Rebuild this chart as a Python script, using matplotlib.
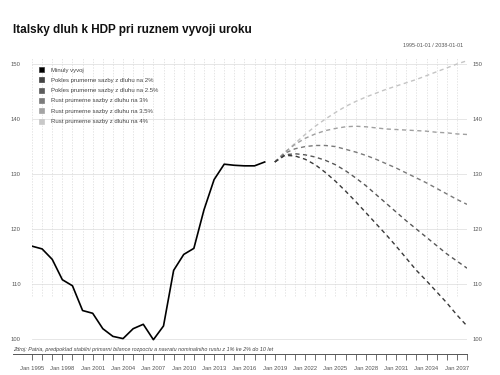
import matplotlib
matplotlib.use("Agg")
import matplotlib.pyplot as plt
from matplotlib.lines import Line2D
from matplotlib.patches import Patch

plt.rcParams['font.family'] = ['Liberation Sans', 'DejaVu Sans']

# ---- data ----
hist_years = list(range(1995, 2019))
hist_values = [116.9, 116.4, 114.5, 110.8, 109.7, 105.2, 104.7, 101.9, 100.5, 100.1,
               101.9, 102.7, 99.9, 102.4, 112.5, 115.4, 116.5, 123.5, 129.0, 131.8,
               131.6, 131.5, 131.5, 132.2]

proj_years = list(range(2019, 2039))
proj_2_0 = [132.2, 133.4, 133.3, 132.7, 131.7, 130.3, 128.7, 126.9, 125.0, 123.0,
            121.0, 119.0, 116.9, 114.7, 112.5, 110.6, 108.6, 106.6, 104.4, 102.4]
proj_2_5 = [132.2, 133.5, 133.7, 133.5, 133.1, 132.5, 131.7, 130.6, 129.3, 127.9,
            126.3, 124.7, 123.1, 121.5, 120.0, 118.5, 117.0, 115.5, 114.2, 112.9]
proj_3_0 = [132.2, 133.8, 134.6, 135.0, 135.2, 135.2, 135.0, 134.5, 134.0, 133.4,
            132.7, 131.9, 131.1, 130.2, 129.3, 128.4, 127.4, 126.4, 125.4, 124.5]
proj_3_5 = [132.2, 134.0, 135.4, 136.5, 137.3, 137.9, 138.3, 138.6, 138.7, 138.6,
            138.4, 138.2, 138.1, 138.0, 137.9, 137.8, 137.6, 137.5, 137.3, 137.2]
proj_4_0 = [132.2, 133.9, 135.6, 137.2, 138.7, 140.0, 141.2, 142.3, 143.2, 144.0,
            144.7, 145.4, 146.0, 146.6, 147.2, 147.9, 148.6, 149.3, 150.0, 150.6]

series_labels = ["Minuly vyvoj",
                 "Pokles prumerne sazby z dluhu na 2%",
                 "Pokles prumerne sazby z dluhu na 2.5%",
                 "Rust prumerne sazby z dluhu na 3%",
                 "Rust prumerne sazby z dluhu na 3.5%",
                 "Rust prumerne sazby z dluhu na 4%"]
series_colors = ["#000000", "#3a3a3a", "#585858", "#7a7a7a", "#a0a0a0", "#c4c4c4"]
legend_colors = ["#000000", "#444444", "#5c5c5c", "#7c7c7c", "#a4a4a4", "#c8c8c8"]

y_ticks = [100, 110, 120, 130, 140, 150]
x_label_years = list(range(1995, 2038, 3))

title = "Italsky dluh k HDP pri ruznem vyvoji uroku"
date_range = "1995-01-01 / 2038-01-01"
source = ("Zdroj: Patria, predpoklad stabilni primarni bilance rozpoctu a navratu "
          "nominalniho rustu z 1% ke 2% do 10 let")

# ---- figure ----
W, H = 500, 375
fig = plt.figure(figsize=(5, 3.75), dpi=100)
ax_left, ax_right, ax_top, ax_bot = 32, 467, 58, 354
ax = fig.add_axes([ax_left / W, 1 - ax_bot / H, (ax_right - ax_left) / W, (ax_bot - ax_top) / H])
ax.set_xlim(1995, 2038)
ax.set_ylim(97.3, 151.1)

# grid
for yv in y_ticks:
    ax.axhline(yv, color="#e2e2e2", lw=0.6, zorder=0)
for yr in range(1995, 2039):
    ax.plot([yr, yr], [107.8, 151.1], color="#dadada", lw=0.5, ls=(0, (2, 2)), zorder=0)

# lines
ax.plot(hist_years, hist_values, color=series_colors[0], lw=1.2, zorder=5)
projs = [proj_2_0, proj_2_5, proj_3_0, proj_3_5, proj_4_0]
for vals, col in reversed(list(zip(projs, series_colors[1:]))):
    ax.plot(proj_years, vals, color=col, lw=1.0, ls=(0, (3, 2.5)), zorder=4)

# axes styling
for s in ["top", "left", "right"]:
    ax.spines[s].set_visible(False)
ax.spines["bottom"].set_color("#555555")
ax.spines["bottom"].set_linewidth(0.7)

ax.set_xticks(list(range(1995, 2039)), minor=True)
ax.set_xticks(x_label_years)
ax.set_xticklabels([f"Jan {y}" for y in x_label_years])
ax.tick_params(axis="x", which="both", direction="out", length=4, width=0.6,
               color="#555555", labelsize=4.2, labelcolor="#555555", pad=5)

ax.set_yticks(y_ticks)
ax.tick_params(axis="y", which="both", length=0, labelsize=4.2, labelcolor="#555555",
               left=True, right=False, labelleft=True, labelright=False, pad=8)

ax2 = ax.twinx()
ax2.set_ylim(ax.get_ylim())
ax2.set_yticks(y_ticks)
for s in ["top", "left", "right", "bottom"]:
    ax2.spines[s].set_visible(False)
ax2.tick_params(axis="y", length=0, labelsize=4.2, labelcolor="#555555", pad=4)

# legend
handles = [Patch(facecolor=c, edgecolor="#333333" if i == 0 else c, linewidth=0.5)
           for i, c in enumerate(legend_colors)]
leg = ax.legend(handles, series_labels, loc="upper left",
                bbox_to_anchor=((39 - ax_left) / (ax_right - ax_left), 1 - (67 - ax_top) / (ax_bot - ax_top)),
                frameon=False, fontsize=4.3, handlelength=0.9, handleheight=0.9,
                handletextpad=1.1, labelspacing=0.8, borderaxespad=0, borderpad=0)
for t in leg.get_texts():
    t.set_color("#444444")

# texts
fig.text(13 / W, 1 - 33 / H, title, fontsize=8.5, fontweight="bold", color="#111111",
         ha="left", va="baseline")
fig.text(463 / W, 1 - 47 / H, date_range, fontsize=3.9, color="#555555",
         ha="right", va="baseline")
fig.text(13 / W, 1 - 351 / H, source, fontsize=3.9, style="italic", color="#444444",
         ha="left", va="baseline")
fig.add_artist(Line2D([13 / W, ax_left / W], [1 - 354 / H, 1 - 354 / H],
                      color="#555555", lw=0.7, transform=fig.transFigure))

fig.savefig("out.png", dpi=100)
